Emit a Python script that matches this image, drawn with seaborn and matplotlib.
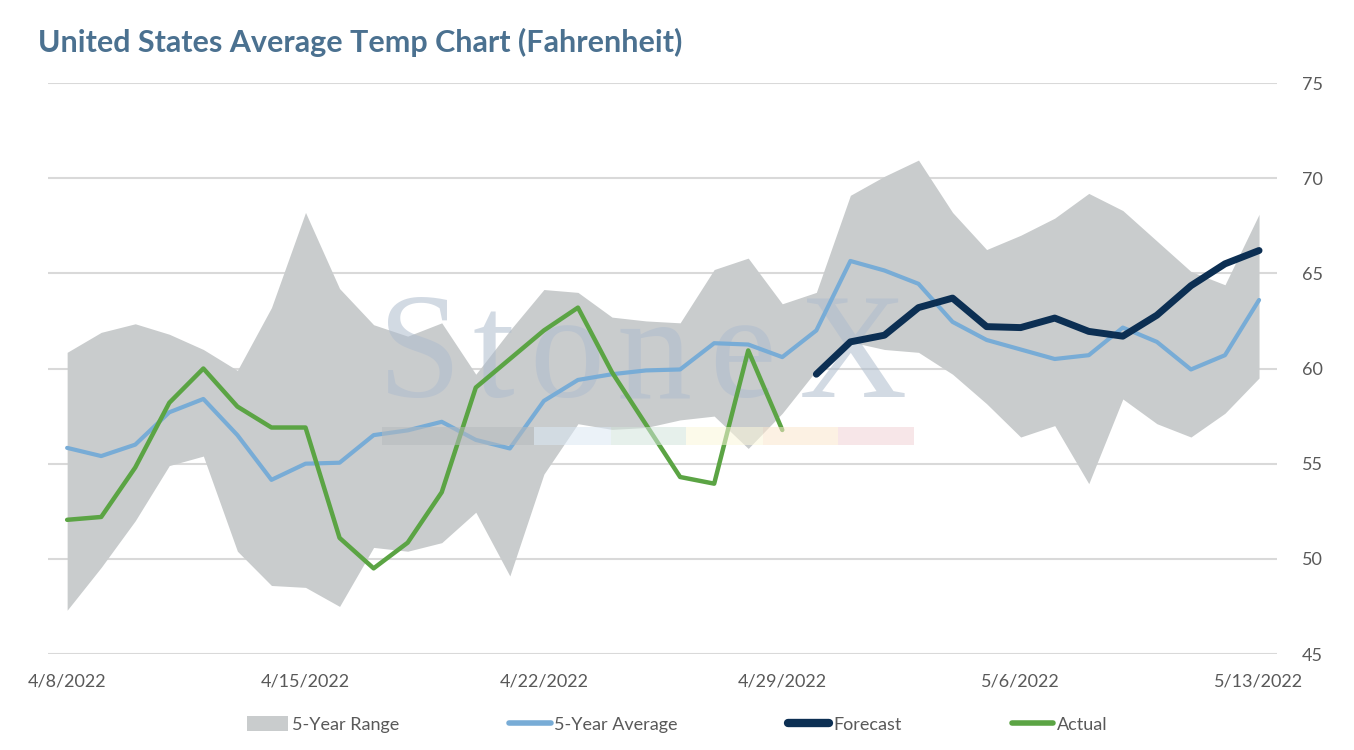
import numpy as np
import pandas as pd
import matplotlib.pyplot as plt
import seaborn as sns
from matplotlib.patches import Patch, Rectangle
from matplotlib.lines import Line2D

# daily values, 4/8/2022 .. 5/13/2022
dates = pd.date_range('2022-04-08', '2022-05-13', freq='D')

range_low = [47.3, 49.55, 52.0, 54.9, 55.4, 50.4, 48.6, 48.5, 47.5, 50.6, 50.4, 50.85,
             52.45, 49.1, 54.45, 57.1, 56.8, 56.9, 57.3, 57.5, 55.8, 57.65, 59.9, 61.4,
             61.0, 60.85, 59.7, 58.15, 56.4, 57.0, 53.95, 58.4, 57.1, 56.4, 57.65, 59.5]
range_high = [60.85, 61.9, 62.35, 61.8, 61.0, 59.9, 63.2, 68.2, 64.2, 62.3, 61.7, 62.4,
              59.7, 62.0, 64.15, 64.0, 62.7, 62.5, 62.4, 65.2, 65.8, 63.4, 64.0, 69.1,
              70.1, 70.95, 68.2, 66.25, 67.0, 67.9, 69.2, 68.3, 66.7, 65.1, 64.4, 68.1]
avg_5yr = [55.83, 55.4, 56.0, 57.7, 58.4, 56.5, 54.15, 55.0, 55.05, 56.5, 56.75, 57.2,
           56.25, 55.8, 58.3, 59.4, 59.7, 59.9, 59.95, 61.33, 61.26, 60.6, 62.0, 65.65,
           65.15, 64.45, 62.45, 61.5, 61.0, 60.5, 60.7, 62.15, 61.4, 59.95, 60.7, 63.6]
actual = [52.05, 52.2, 54.8, 58.2, 60.0, 58.0, 56.9, 56.9, 51.1, 49.5, 50.85, 53.5,
          59.0, 60.5, 62.0, 63.2, 59.8, 57.05, 54.3, 53.95, 60.95, 56.77] + [np.nan] * 14
forecast = [np.nan] * 22 + [59.7, 61.4, 61.75, 63.2, 63.7, 62.2, 62.15, 62.65, 61.95,
                            61.7, 62.8, 64.35, 65.5, 66.2]

df = pd.DataFrame({'date': dates, 'low': range_low, 'high': range_high,
                   'avg': avg_5yr, 'actual': actual, 'forecast': forecast})

c_range = '#c9cccd'
c_avg = '#78acd6'
c_fc = '#0c2f53'
c_act = '#5ba444'
c_grid = '#d9d9d9'
c_text = '#595959'

sns.set_theme(style='white')
plt.rcParams['font.family'] = ['Lato', 'DejaVu Sans']

W, H = 1354, 750
fig = plt.figure(figsize=(W / 100, H / 100), dpi=100)
ax = fig.add_axes([0.0355, 0.128, 0.9077, 0.7613])

ax.fill_between(df['date'], df['low'], df['high'], color=c_range, lw=0, zorder=1)

# StoneX watermark (letters placed one by one, pixel positions of the logo)
for ch, cx in zip('StoneX', [420, 493, 567, 654, 742, 853]):
    ax.text(cx / W, 1 - 397 / H, ch, transform=fig.transFigure, fontsize=108,
            family='Liberation Serif', color='#aebccd', alpha=0.55, ha='center',
            va='baseline', zorder=2)
bar_cols = ['#b6babd', '#dbe8f4', '#d3e5db', '#fbf6da', '#fbe7cd', '#f2d3d6']
bar_x = [382, 534, 611, 686, 763, 838, 914]
for i, col in enumerate(bar_cols):
    fig.patches.append(Rectangle((bar_x[i] / W, 1 - 445 / H),
                                 (bar_x[i + 1] - bar_x[i]) / W, 18 / H,
                                 transform=fig.transFigure, color=col, alpha=0.55,
                                 lw=0, zorder=2))

sns.lineplot(data=df, x='date', y='avg', ax=ax, color=c_avg, lw=3,
             solid_capstyle='round', zorder=3)
sns.lineplot(data=df, x='date', y='forecast', ax=ax, color=c_fc, lw=5,
             solid_capstyle='round', zorder=4)
sns.lineplot(data=df, x='date', y='actual', ax=ax, color=c_act, lw=3.2,
             solid_capstyle='round', zorder=5)

ax.set_xlim(dates[0] - pd.Timedelta(days=0.56), dates[-1] + pd.Timedelta(days=0.53))
ax.set_ylim(45, 75)
ax.set_yticks([45, 50, 55, 60, 65, 70, 75])
ax.yaxis.tick_right()
ax.grid(axis='y', color=c_grid, lw=1.5)
ax.set_axisbelow(True)
for s in ax.spines.values():
    s.set_visible(False)

tick_dates = dates[::7]
ax.set_xticks(tick_dates)
ax.set_xticklabels([f'{d.month}/{d.day}/{d.year}' for d in tick_dates])
ax.tick_params(axis='both', length=0, labelsize=13, labelcolor=c_text)
ax.tick_params(axis='y', pad=18)
ax.tick_params(axis='x', pad=14)
ax.set_xlabel('')
ax.set_ylabel('')

fig.text(0.028, 0.944, 'United States Average Temp Chart (Fahrenheit)', fontsize=22,
         fontweight='bold', color='#4b7190', ha='left', va='center')

handles = [Patch(color=c_range, lw=0),
           Line2D([], [], color=c_avg, lw=4, solid_capstyle='round'),
           Line2D([], [], color=c_fc, lw=6, solid_capstyle='round'),
           Line2D([], [], color=c_act, lw=4, solid_capstyle='round')]
labels = ['5-Year Range', '5-Year Average', 'Forecast', 'Actual']
fig.legend(handles, labels, loc='center', bbox_to_anchor=(0.5, 0.034), ncol=4,
           frameon=False, fontsize=13, handlelength=2.3, handleheight=0.9,
           handletextpad=0.2, columnspacing=6.1, labelcolor=c_text)

fig.savefig('out.png', dpi=100)
